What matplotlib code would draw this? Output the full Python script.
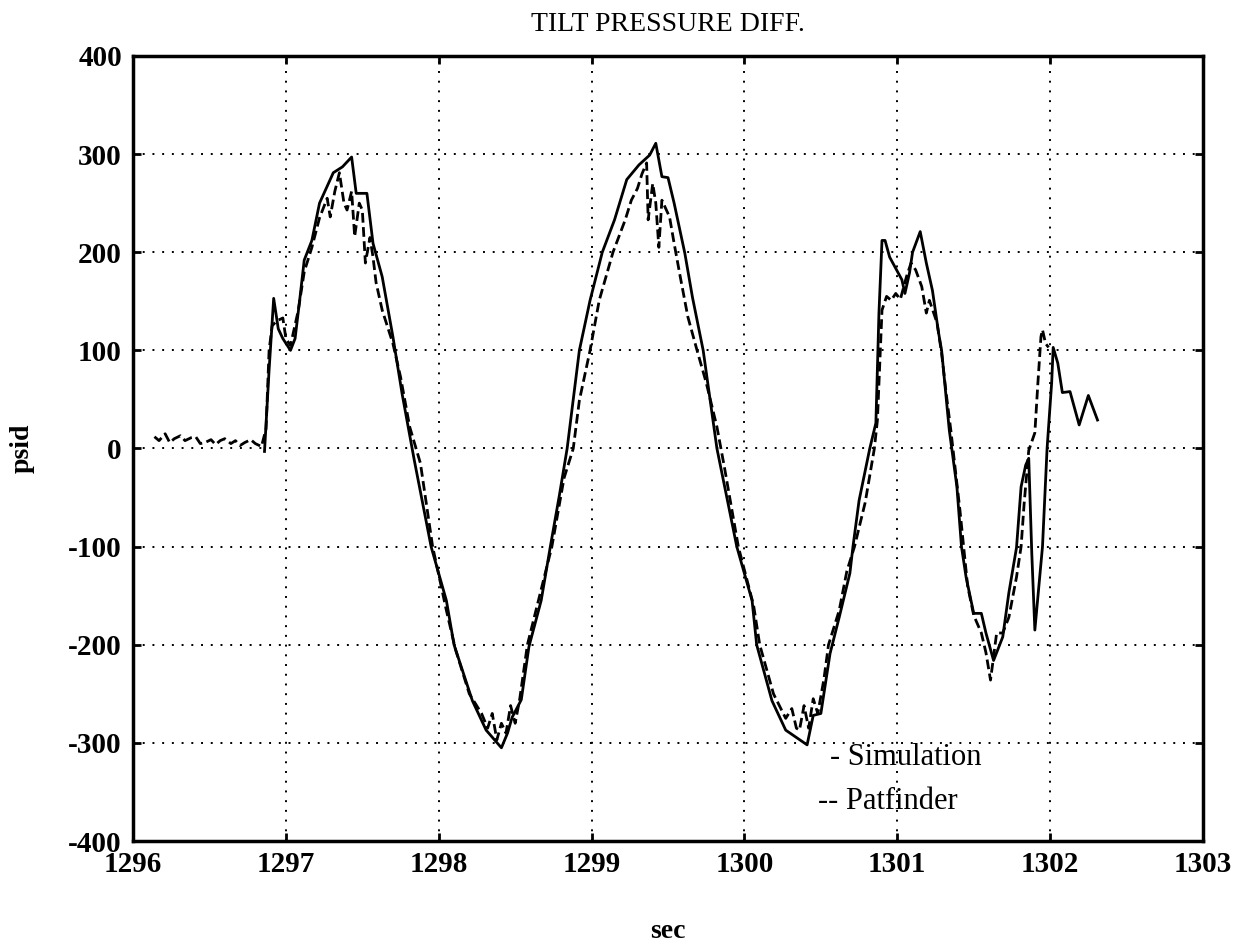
import numpy as np
import matplotlib
matplotlib.use("Agg")
import matplotlib.pyplot as plt

plt.rcParams['font.family'] = ['Liberation Serif', 'DejaVu Serif']

# Simulation (solid line), time in sec, pressure in psid
sim_t = [1296.86, 1296.89, 1296.92, 1296.95, 1296.98, 1297.03, 1297.06, 1297.09, 1297.12,
         1297.17, 1297.22, 1297.31, 1297.37, 1297.43, 1297.46, 1297.53, 1297.57, 1297.63,
         1297.70, 1297.76, 1297.84, 1297.95, 1298.05, 1298.10, 1298.22, 1298.31, 1298.41,
         1298.45, 1298.48, 1298.54, 1298.59, 1298.67, 1298.73, 1298.79, 1298.84, 1298.92,
         1298.99, 1299.07, 1299.15, 1299.23, 1299.31, 1299.38, 1299.42, 1299.46, 1299.50,
         1299.54, 1299.61, 1299.66, 1299.73, 1299.82, 1299.95, 1300.05, 1300.08, 1300.18,
         1300.27, 1300.41, 1300.45, 1300.50, 1300.56, 1300.62, 1300.69, 1300.71, 1300.75,
         1300.82, 1300.86, 1300.88, 1300.90, 1300.92, 1300.95, 1301.03, 1301.05, 1301.08,
         1301.10, 1301.15, 1301.19, 1301.23, 1301.27, 1301.29, 1301.34, 1301.39, 1301.42,
         1301.45, 1301.50, 1301.55, 1301.58, 1301.63, 1301.69, 1301.73, 1301.78, 1301.81,
         1301.84, 1301.86, 1301.88, 1301.90, 1301.95, 1301.98, 1302.01, 1302.02, 1302.05,
         1302.08, 1302.13, 1302.19, 1302.25, 1302.31]
sim_v = [-3, 80, 153, 122, 112, 100, 112, 151, 192,
         212, 250, 281, 287, 297, 260, 260, 209, 175,
         114, 56, -12, -100, -155, -200, -257, -287, -305,
         -290, -274, -256, -202, -155, -100, -47, 0, 100,
         151, 200, 233, 274, 289, 299, 311, 277, 276,
         250, 199, 154, 100, 0, -100, -155, -200, -257,
         -287, -302, -272, -270, -209, -172, -127, -100, -53,
         0, 26, 138, 212, 212, 195, 172, 158, 179,
         200, 221, 189, 161, 118, 100, 19, -39, -100,
         -131, -168, -168, -188, -216, -192, -147, -101, -39,
         -17, -10, -107, -185, -100, 0, 67, 103, 87,
         57, 58, 24, 54, 29]

# Patfinder (dashed line)
pf_t = [1296.14, 1296.17, 1296.21, 1296.24, 1296.27, 1296.31, 1296.34, 1296.38, 1296.41,
        1296.44, 1296.47, 1296.51, 1296.54, 1296.57, 1296.60, 1296.64, 1296.67, 1296.70,
        1296.73, 1296.77, 1296.80, 1296.84, 1296.87, 1296.89, 1296.91, 1296.94, 1296.98,
        1297.00, 1297.03, 1297.08, 1297.12, 1297.17, 1297.22, 1297.27, 1297.29, 1297.32,
        1297.35, 1297.38, 1297.40, 1297.43, 1297.45, 1297.48, 1297.50, 1297.52, 1297.55,
        1297.57, 1297.59, 1297.63, 1297.70, 1297.75, 1297.81, 1297.88, 1297.96, 1298.05,
        1298.11, 1298.20, 1298.28, 1298.32, 1298.35, 1298.38, 1298.41, 1298.44, 1298.47,
        1298.50, 1298.53, 1298.58, 1298.66, 1298.74, 1298.82, 1298.88, 1298.92, 1298.99,
        1299.05, 1299.14, 1299.22, 1299.26, 1299.30, 1299.33, 1299.36, 1299.37, 1299.40,
        1299.42, 1299.44, 1299.46, 1299.51, 1299.54, 1299.58, 1299.63, 1299.69, 1299.75,
        1299.82, 1299.87, 1299.96, 1300.06, 1300.10, 1300.19, 1300.27, 1300.31, 1300.34,
        1300.36, 1300.39, 1300.42, 1300.45, 1300.48, 1300.52, 1300.55, 1300.62, 1300.67,
        1300.72, 1300.79, 1300.85, 1300.87, 1300.90, 1300.93, 1300.96, 1300.99, 1301.02,
        1301.06, 1301.09, 1301.12, 1301.16, 1301.19, 1301.21, 1301.26, 1301.29, 1301.32,
        1301.35, 1301.41, 1301.46, 1301.50, 1301.55, 1301.58, 1301.61, 1301.65, 1301.69,
        1301.73, 1301.78, 1301.81, 1301.83, 1301.86, 1301.90, 1301.92, 1301.94, 1301.95,
        1301.97, 1301.99]
pf_v = [12, 8, 15, 6, 10, 13, 8, 11, 12,
        5, 6, 9, 4, 8, 10, 5, 8, 3,
        6, 9, 5, 2, 20, 100, 125, 130, 133,
        112, 105, 140, 180, 205, 235, 255, 236, 262,
        281, 250, 243, 262, 216, 250, 243, 189, 215,
        195, 169, 141, 107, 73, 22, -15, -100, -165,
        -205, -250, -270, -285, -270, -297, -280, -290, -262,
        -280, -255, -200, -150, -100, -30, 0, 49, 100,
        151, 200, 233, 253, 265, 280, 291, 233, 270,
        250, 205, 253, 236, 209, 175, 134, 100, 67,
        22, -20, -100, -160, -200, -250, -275, -265, -285,
        -287, -262, -285, -255, -270, -235, -200, -165, -125,
        -100, -55, 0, 29, 141, 155, 151, 158, 152,
        175, 189, 182, 165, 138, 151, 128, 97, 56,
        19, -63, -140, -170, -188, -208, -236, -188, -188,
        -172, -131, -100, -56, -2, 16, 67, 114, 121,
        107, 103]

x_ticks = [1296, 1297, 1298, 1299, 1300, 1301, 1302, 1303]
y_ticks = [-400, -300, -200, -100, 0, 100, 200, 300, 400]

fig = plt.figure(figsize=(12.47, 9.5), dpi=100)
ax = fig.add_axes([0.1067, 0.1147, 0.8580, 0.8264])

ax.plot(sim_t, sim_v, color='black', lw=2.0, solid_joinstyle='round')
ax.plot(pf_t, pf_v, color='black', lw=2.0, linestyle=(0, (3.5, 1.6)))

ax.set_xlim(1296, 1303)
ax.set_ylim(-400, 400)
ax.set_xticks(x_ticks)
ax.set_yticks(y_ticks)
ax.set_xticklabels([str(v) for v in x_ticks], fontsize=21, fontweight='bold')
ax.set_yticklabels([str(v) for v in y_ticks], fontsize=21, fontweight='bold')
ax.tick_params(axis='x', direction='in', length=6, width=2, top=True, pad=7)
ax.tick_params(axis='y', direction='in', length=6, width=2, right=True, pad=8)
ax.grid(True, color='black', linestyle=(0, (1, 4)), lw=1.4)
for s in ax.spines.values():
    s.set_linewidth(2.5)

ax.set_title('TILT PRESSURE DIFF.', fontsize=20, pad=18)
ax.set_xlabel('sec', fontsize=20, fontweight='bold', labelpad=30)
ax.set_ylabel('psid', fontsize=20, fontweight='bold', labelpad=24)

ax.text(0.651, 0.107, '- Simulation', transform=ax.transAxes, fontsize=22,
        va='center', ha='left')
ax.text(0.640, 0.050, '-- Patfinder', transform=ax.transAxes, fontsize=22,
        va='center', ha='left')

fig.savefig('out.png', dpi=100)
